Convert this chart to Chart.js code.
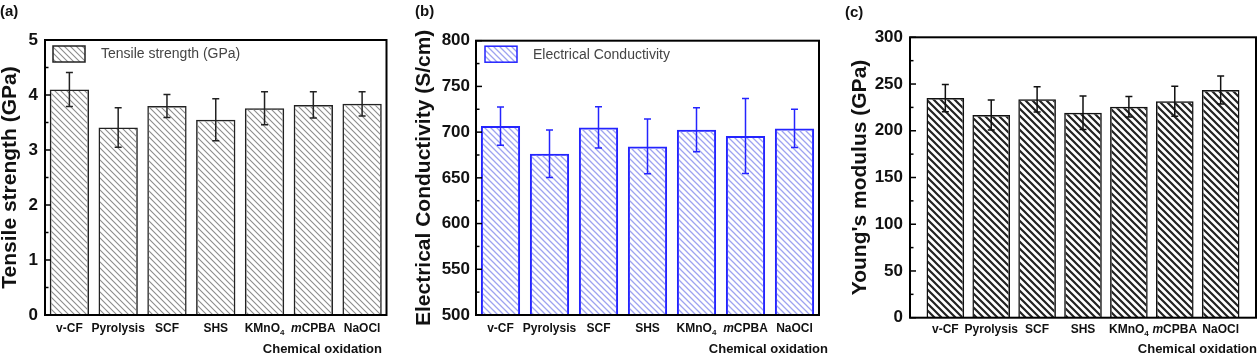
<!DOCTYPE html>
<html><head><meta charset="utf-8">
<script src="https://cdn.jsdelivr.net/npm/chart.js@4.4.1/dist/chart.umd.min.js"></script>
<style>
html,body{margin:0;padding:0;background:#fff;}
body{width:1260px;height:356px;overflow:hidden;position:relative;}
canvas{position:absolute;top:0;}
</style>
</head><body>
<canvas id="ca" width="420" height="356" style="left:0px"></canvas>
<canvas id="cb" width="435" height="356" style="left:405px"></canvas>
<canvas id="cc" width="440" height="356" style="left:820px"></canvas>
<script>
// ---------- data ----------
const categories = ['v-CF','Pyrolysis','SCF','SHS','KMnO4','mCPBA','NaOCl'];
const tensile = [4.10, 3.41, 3.80, 3.55, 3.76, 3.82, 3.84];
const tensileErr = [0.31, 0.36, 0.21, 0.38, 0.30, 0.24, 0.22];
const conductivity = [706.6, 676.4, 705.2, 684.4, 702.6, 695.7, 704.1];
const conductivityErr = [21, 26, 22.5, 30, 24, 41, 21];
const modulus = [235.0, 216.8, 233.6, 219.3, 225.7, 231.5, 243.6];
const modulusErr = [14.6, 16, 13.5, 18, 11, 16, 15];
const tensileTicks = [0, 1, 2, 3, 4, 5];
const conductivityTicks = [500, 550, 600, 650, 700, 750, 800];
const modulusTicks = [0, 50, 100, 150, 200, 250, 300];
const xAxisNote = 'Chemical oxidation';

const FONT = '"Liberation Sans", Arial, Helvetica, sans-serif';

function hatch(color, size, lw) {
  const c = document.createElement('canvas');
  c.width = size; c.height = size;
  const g = c.getContext('2d');
  g.strokeStyle = color; g.lineWidth = lw;
  g.beginPath();
  g.moveTo(-1, -1); g.lineTo(size + 1, size + 1);
  g.moveTo(-1, size - 1); g.lineTo(1, size + 1);
  g.moveTo(size - 1, -1); g.lineTo(size + 1, 1);
  g.stroke();
  return g.createPattern(c, 'repeat');
}

function labelParts(name) {
  if (name === 'KMnO4') return [{t:'KMnO', s:12}, {t:'4', s:8, dy:3}];
  if (name === 'mCPBA') return [{t:'m', s:12, it:true}, {t:'CPBA', s:12}];
  return [{t:name, s:12}];
}
function partFont(p) { return (p.it ? 'italic ' : '') + 'bold ' + p.s + 'px ' + FONT; }

function makePanel(p) {
  const ctx = document.getElementById(p.id).getContext('2d');
  const fill = hatch(p.hatch[0], p.hatch[1], p.hatch[2]);
  const overlay = {
    id: 'overlay_' + p.id,
    afterDatasetsDraw(chart) {
      const c = chart.ctx, a = chart.chartArea, xs = chart.scales.x, ys = chart.scales.y;
      c.save();
      // error bars
      c.strokeStyle = p.errColor; c.lineWidth = 1.5;
      p.values.forEach((v, i) => {
        const x = xs.getPixelForValue(i + 1);
        const yt = ys.getPixelForValue(v + p.errors[i]);
        const yb = ys.getPixelForValue(v - p.errors[i]);
        c.beginPath();
        c.moveTo(x, yt); c.lineTo(x, yb);
        c.moveTo(x - 3.5, yt); c.lineTo(x + 3.5, yt);
        c.moveTo(x - 3.5, yb); c.lineTo(x + 3.5, yb);
        c.stroke();
      });
      // frame
      c.strokeStyle = '#000'; c.lineWidth = 2;
      c.strokeRect(a.left, a.top, a.right - a.left, a.bottom - a.top);
      // inward ticks on left axis
      c.lineWidth = 1.5;
      const t = p.ticks;
      for (let k = 0; k < t.length; k++) {
        const y = ys.getPixelForValue(t[k]);
        c.beginPath(); c.moveTo(a.left, y); c.lineTo(a.left + 6, y); c.stroke();
        if (k < t.length - 1) {
          const ym = ys.getPixelForValue((t[k] + t[k + 1]) / 2);
          c.beginPath(); c.moveTo(a.left, ym); c.lineTo(a.left + 3.5, ym); c.stroke();
        }
      }
      // legend
      if (p.legend) {
        const bx = a.left + p.legPos[0], by = a.top + p.legPos[1];
        c.fillStyle = fill;
        c.fillRect(bx, by, 32, 16);
        c.strokeStyle = p.border; c.lineWidth = 1.5;
        c.strokeRect(bx, by, 32, 16);
        c.fillStyle = '#444';
        c.font = '14px ' + FONT;
        c.textAlign = 'left'; c.textBaseline = 'middle';
        c.fillText(p.legend, bx + 48, by + 8.5);
      }
      // category labels
      c.fillStyle = '#111';
      c.textBaseline = 'alphabetic';
      categories.forEach((name, i) => {
        const parts = labelParts(name);
        let w = 0;
        parts.forEach(q => { c.font = partFont(q); q.w = c.measureText(q.t).width; w += q.w; });
        let x = xs.getPixelForValue(i + 1) - w / 2;
        parts.forEach(q => {
          c.font = partFont(q); c.textAlign = 'left';
          c.fillText(q.t, x, p.labelY + (q.dy || 0));
          x += q.w;
        });
      });
      // axis note
      c.font = 'bold 13px ' + FONT;
      c.textAlign = 'right'; c.textBaseline = 'middle';
      c.fillText(xAxisNote, p.noteX, 349);
      // panel letter
      c.font = 'bold 15px ' + FONT;
      c.textAlign = 'left'; c.textBaseline = 'middle';
      c.fillText(p.letter, p.letterPos[0], p.letterPos[1]);
      c.restore();
    }
  };
  return new Chart(ctx, {
    type: 'bar',
    data: {
      labels: categories,
      datasets: [{
        label: p.legend || p.yTitle,
        data: p.values.map((v, i) => ({x: i + 1, y: v})),
        backgroundColor: fill,
        borderColor: p.border,
        borderWidth: p.bw,
        borderSkipped: 'start',
        base: p.ticks[0],
        barPercentage: p.barPct,
        categoryPercentage: 1
      }]
    },
    options: {
      responsive: false, animation: false, devicePixelRatio: 1,
      layout: {padding: {top: p.top, right: p.right, left: 0, bottom: 0}},
      plugins: {legend: {display: false}, tooltip: {enabled: false}},
      scales: {
        x: {
          type: 'linear', min: p.xmin, max: p.xmax, offset: false,
          grid: {display: false, drawTicks: false}, border: {display: false},
          ticks: {display: false},
          afterBuildTicks: s => { s.ticks = categories.map((_, i) => ({value: i + 1})); },
          afterFit: s => { s.height = p.xh; }
        },
        y: {
          type: 'linear', min: p.ticks[0], max: p.ticks[p.ticks.length - 1],
          grid: {display: false, drawTicks: false}, border: {display: false},
          afterBuildTicks: s => { s.ticks = p.ticks.map(v => ({value: v})); },
          ticks: {font: {family: FONT, size: 17, weight: 'bold'}, color: '#111', padding: p.tickPad},
          title: {display: true, text: p.yTitle, color: '#111',
                  font: {family: FONT, size: 21, weight: 'bold', lineHeight: 1},
                  padding: {top: p.titlePad, bottom: 0}},
          afterFit: s => { s.width = p.yw; }
        }
      }
    },
    plugins: [overlay]
  });
}

makePanel({
  id: 'ca', values: tensile, errors: tensileErr, ticks: tensileTicks,
  yTitle: 'Tensile strength (GPa)', legend: 'Tensile strength (GPa)',
  hatch: ['#8c8c8c', 6, 1.1], border: '#222', bw: 1.5, errColor: '#222',
  top: 40, right: 33.5, xh: 41, yw: 45, tickPad: 7, titlePad: 0,
  xmin: 0.5, xmax: 7.5, barPct: 0.806, legPos: [8, 6],
  labelY: 332, noteX: 382, letter: '(a)', letterPos: [0, 11.5]
});
makePanel({
  id: 'cb', values: conductivity, errors: conductivityErr, ticks: conductivityTicks,
  yTitle: 'Electrical Conductivity (S/cm)', legend: 'Electrical Conductivity',
  hatch: ['#9ea3f0', 6, 1.3], border: '#2424ff', bw: 2, errColor: '#2424ff',
  top: 40.7, right: 21, xh: 41, yw: 71, tickPad: 6, titlePad: 8.5,
  xmin: 0.5, xmax: 7.5, barPct: 0.80, legPos: [9, 5.5],
  labelY: 332, noteX: 423, letter: '(b)', letterPos: [10, 12]
});
makePanel({
  id: 'cc', values: modulus, errors: modulusErr, ticks: modulusTicks,
  yTitle: "Young's modulus (GPa)", legend: null,
  hatch: ['#222', 7, 2.2], border: '#111', bw: 1.5, errColor: '#111',
  top: 37.3, right: 4, xh: 38.3, yw: 90, tickPad: 7, titlePad: 29.5,
  xmin: 0.23, xmax: 7.77, barPct: 0.82, legPos: [0, 0],
  labelY: 333, noteX: 437, letter: '(c)', letterPos: [25, 13]
});
</script>
</body></html>
